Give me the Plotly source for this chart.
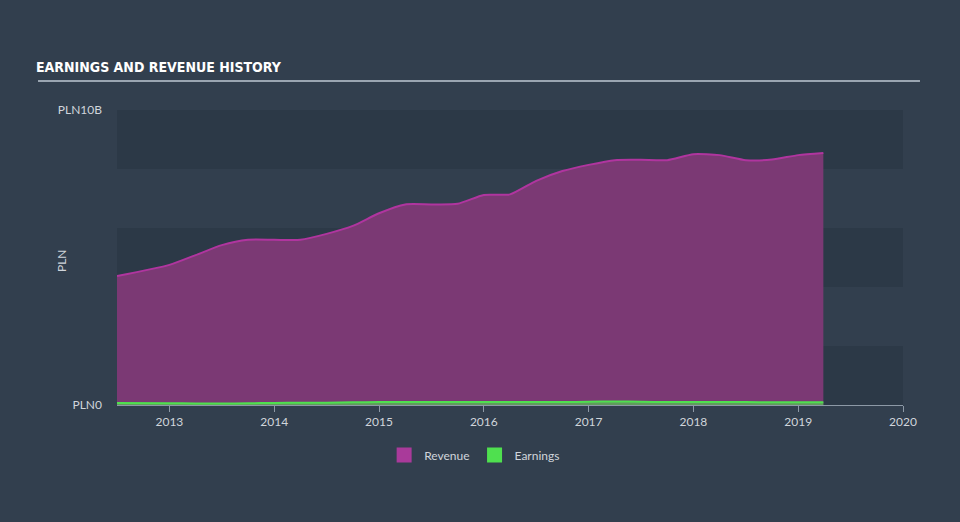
import plotly.graph_objects as go

# Data (fractional years, values in PLN billions)
years = [2012.5, 2013.0, 2013.25, 2013.5, 2013.75, 2014.0, 2014.25, 2014.5, 2014.75,
         2015.0, 2015.25, 2015.5, 2015.75, 2016.0, 2016.25, 2016.5, 2016.75,
         2017.0, 2017.25, 2017.5, 2017.75, 2018.0, 2018.25, 2018.5, 2018.75,
         2019.0, 2019.24]
revenue = [4.37, 4.75, 5.08, 5.42, 5.6, 5.6, 5.6, 5.8, 6.07,
           6.5, 6.8, 6.8, 6.82, 7.12, 7.14, 7.6, 7.93,
           8.14, 8.3, 8.31, 8.3, 8.5, 8.47, 8.3, 8.32,
           8.47, 8.54]
earnings = [0.07, 0.06, 0.05, 0.05, 0.06, 0.07, 0.08, 0.08, 0.09,
            0.1, 0.1, 0.1, 0.1, 0.1, 0.1, 0.1, 0.1,
            0.11, 0.12, 0.11, 0.1, 0.1, 0.1, 0.1, 0.09,
            0.09, 0.09]
year_ticks = [2013, 2014, 2015, 2016, 2017, 2018, 2019, 2020]
y_ticks = [0, 10]
y_ticktext = ["PLN0", "PLN10B"]

BG = "#323f4e"
BAND = "#2c3947"
TXT = "#d0d5db"
FONT = "Lato, DejaVu Sans"

fig = go.Figure()
fig.add_trace(go.Scatter(
    x=years, y=revenue, name="Revenue", mode="lines", showlegend=False,
    line=dict(color="#b0359f", width=2, shape="spline", smoothing=0.6),
    fill="tozeroy", fillcolor="rgba(123,57,116,1)",
))
fig.add_trace(go.Scatter(
    x=years, y=earnings, name="Earnings", mode="lines", showlegend=False,
    line=dict(color="#4fe04f", width=2, shape="spline", smoothing=0.6),
    fill="tozeroy", fillcolor="rgba(79,224,79,0.6)",
))
# legend-only square swatches
for name, col in [("Revenue", "#a93a9a"), ("Earnings", "#4fe04f")]:
    fig.add_trace(go.Scatter(x=[None], y=[None], mode="markers", name=name,
                             marker=dict(symbol="square", size=15, color=col)))

shapes = []
for lo in [0, 4, 8]:
    shapes.append(dict(type="rect", xref="paper", yref="y", x0=0, x1=1, y0=lo, y1=lo + 2,
                       fillcolor=BAND, line=dict(width=0), layer="below"))
# title underline
shapes.append(dict(type="line", xref="paper", yref="paper", x0=-0.1005, x1=1.0216,
                   y0=1.0983, y1=1.0983, line=dict(color="#9aa5b1", width=2)))

fig.update_layout(
    width=960, height=522,
    margin=dict(l=117, r=57, t=110, b=117),
    paper_bgcolor=BG, plot_bgcolor=BG,
    shapes=shapes,
    showlegend=True,
    legend=dict(orientation="h", x=0.455, xanchor="center", y=-0.12, yanchor="top",
                font=dict(family=FONT, size=12, color=TXT),
                bgcolor="rgba(0,0,0,0)", itemwidth=30),
    annotations=[
        dict(text="<b>EARNINGS AND REVENUE HISTORY</b>", xref="paper", yref="paper",
             x=-0.106, y=1.112, xanchor="left", yanchor="bottom", showarrow=False,
             font=dict(family="DejaVu Sans Condensed, Liberation Sans Narrow, Roboto Condensed",
                       size=14, color="#ffffff")),
        dict(text="PLN", xref="paper", yref="paper", x=-0.0705, y=0.49, textangle=-90,
             xanchor="center", yanchor="middle", showarrow=False,
             font=dict(family=FONT, size=12, color=TXT)),
    ],
    xaxis=dict(range=[2012.5, 2020.0], tickvals=year_ticks, ticktext=[str(y) for y in year_ticks],
               showgrid=False, zeroline=False, showline=True, linecolor="#8d99a6", linewidth=1,
               ticks="outside", ticklen=6, tickcolor="#8d99a6",
               tickfont=dict(family=FONT, size=12, color=TXT)),
    yaxis=dict(range=[0, 10], tickvals=y_ticks, ticktext=y_ticktext, showgrid=False,
               zeroline=False, showline=False, ticks="", ticklabelstandoff=14,
               tickfont=dict(family=FONT, size=12, color=TXT)),
)

fig.write_html("out.html")
